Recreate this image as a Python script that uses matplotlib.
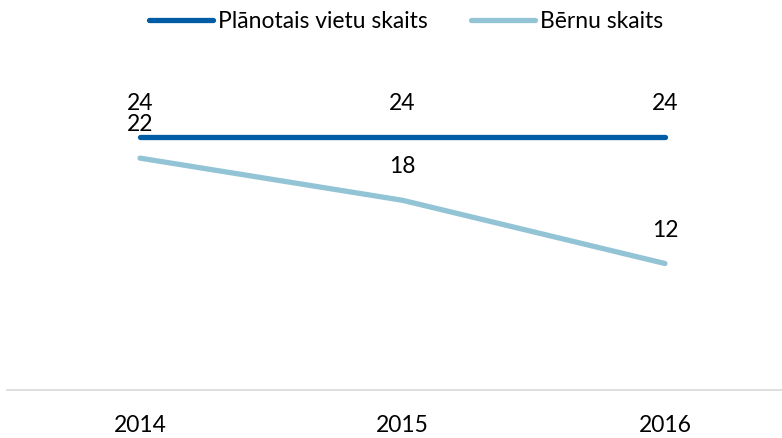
import matplotlib.pyplot as plt

# dati
years = ['2014', '2015', '2016']
planotais = [24, 24, 24]
bernu = [22, 18, 12]

plt.rcParams['font.family'] = ['Lato', 'DejaVu Sans']
fs = 16.5

fig = plt.figure(figsize=(7.82, 4.38), dpi=100)
# ass: x no 7 līdz 782 px, y no 40 līdz 390 px
ax = fig.add_axes([7 / 782, 1 - 390 / 438, 775 / 782, 350 / 438])

x = list(range(len(years)))
dark = '#005DA5'
light = '#92C4D6'

ax.plot(x, planotais, color=dark, lw=3.8, solid_capstyle='round',
        label='Plānotais vietu skaits')
ax.plot(x, bernu, color=light, lw=3.8, solid_capstyle='round',
        label='Bērnu skaits')

for xi, v in zip(x, planotais):
    ax.annotate(str(v), (xi, v), xytext=(0, 24), textcoords='offset points',
                ha='center', va='center', fontsize=fs)
for xi, v in zip(x, bernu):
    ax.annotate(str(v), (xi, v), xytext=(0, 24), textcoords='offset points',
                ha='center', va='center', fontsize=fs)

px = 262.5
ax.set_xlim(-133 / px, 2 + 117 / px)
ax.set_ylim(0, 350 / 10.54)
ax.set_xticks(x)
ax.set_xticklabels(years, fontsize=fs)
ax.set_yticks([])
ax.tick_params(axis='x', length=0, pad=18)
for s in ['top', 'right', 'left']:
    ax.spines[s].set_visible(False)
ax.spines['bottom'].set_color('#D9D9D9')
ax.spines['bottom'].set_linewidth(1.2)

fig.legend(loc='center', bbox_to_anchor=(0.519, 1 - 22 / 438), ncol=2,
           frameon=False, fontsize=fs, handlelength=2.8, handletextpad=0.2,
           columnspacing=1.9)

fig.savefig('out.png', dpi=100)
